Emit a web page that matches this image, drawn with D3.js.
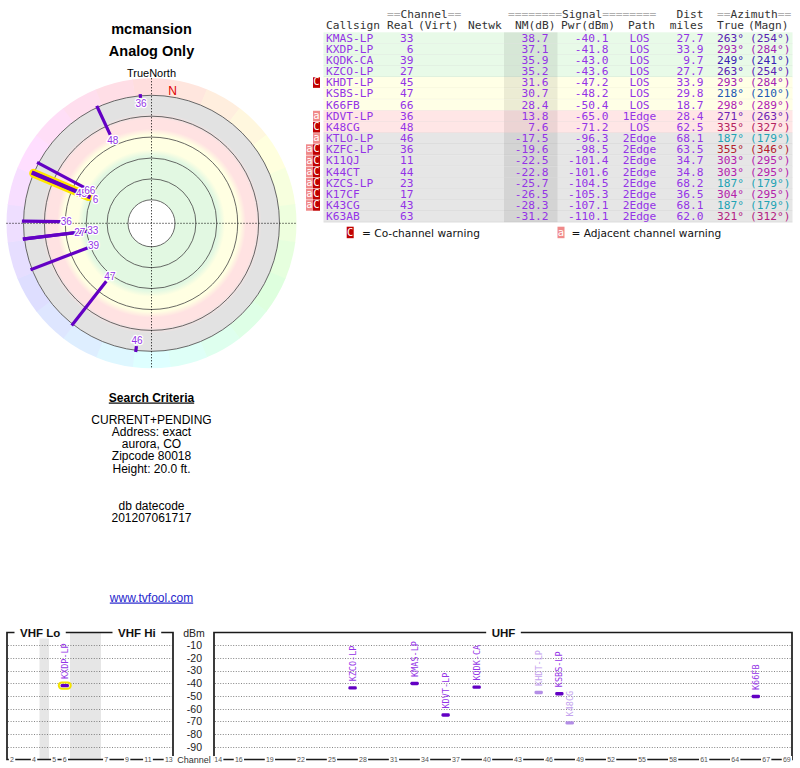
<!DOCTYPE html>
<html>
<head>
<meta charset="utf-8">
<script src="https://cdn.jsdelivr.net/npm/d3@7"></script>
<style>
  body { margin: 0; background: #fff; }
  svg { display: block; }
</style>
</head>
<body>
<svg id="chart" width="800" height="768"></svg>
<script>
//data
const siteName = 'mcmansion';
const subTitle = 'Analog Only';
const callsigns = ['KMAS-LP','KXDP-LP','KQDK-CA','KZCO-LP','KHDT-LP','KSBS-LP','K66FB','KDVT-LP','K48CG',
  'KTLO-LP','KZFC-LP','K11QJ','K44CT','KZCS-LP','K17CF','K43CG','K63AB'];
const channels = [33, 6, 39, 27, 45, 47, 66, 36, 48, 46, 36, 11, 44, 23, 17, 43, 63];
const nmDb = [38.7, 37.1, 35.9, 35.2, 31.6, 30.7, 28.4, 13.8, 7.6, -17.5, -19.6, -22.5, -22.8, -25.7, -26.5, -28.3, -31.2];
const pwrDbm = [-40.1, -41.8, -43.0, -43.6, -47.2, -48.2, -50.4, -65.0, -71.2, -96.3, -98.5, -101.4, -101.6, -104.5, -105.3, -107.1, -110.1];
const paths = ['LOS','LOS','LOS','LOS','LOS','LOS','LOS','1Edge','LOS','2Edge','2Edge','2Edge','2Edge','2Edge','2Edge','2Edge','2Edge'];
const distMiles = [27.7, 33.9, 9.7, 27.7, 33.9, 29.8, 18.7, 28.4, 62.5, 68.1, 63.5, 34.7, 34.8, 68.2, 36.5, 68.1, 62.0];
const azTrue = [263, 293, 249, 263, 293, 218, 298, 271, 335, 187, 355, 303, 303, 187, 304, 187, 321];
const azMagn = [254, 284, 241, 254, 284, 210, 289, 263, 327, 179, 346, 295, 295, 179, 295, 179, 312];
const warnings = ['','','','','C','','','a','C','a','aC','aC','aC','aC','aC','aC',''];
const highlighted = ['KXDP-LP'];

const nmRings = [-20, 0, 20, 40, 60, 80];
const magDeclination = 9;
const criteria = ['CURRENT+PENDING', 'Address: exact', 'aurora, CO', 'Zipcode 80018', 'Height: 20.0 ft.'];
const dbLines = ['db datecode', '201207061717'];
const siteUrl = 'www.tvfool.com';

const dbmTicks = [-10, -20, -30, -40, -50, -60, -70, -80, -90];
const vhfTicks = [2, 4, 5, 6, 7, 9, 11, 13];
const uhfTicks = [14, 16, 19, 22, 25, 28, 31, 34, 37, 40, 43, 46, 49, 52, 55, 58, 61, 64, 67, 69];

//style
const SANS = '"Liberation Sans", Arial, Helvetica, sans-serif';
const MONO = '"DejaVu Sans Mono", monospace';
const PURPLE = '#9433e6';
const BAR = '#6300c4';
const BAR_LIGHT = '#b38de6';
const LABEL_LIGHT = '#c4a2ee';
const BAND = { green: '#e2f8e2', yellow: '#ffffe2', pink: '#ffe2e2', gray: '#e2e2e2' };
const ROW = { green: '#e8fae8', yellow: '#ffffe6', pink: '#ffe6e6', gray: '#e6e6e6' };

const svg = d3.select('#chart');

const stations = callsigns.map((c, i) => ({
  call: c, ch: channels[i], nm: nmDb[i], pwr: pwrDbm[i], path: paths[i],
  dist: distMiles[i], az: azTrue[i], azm: azMagn[i], warn: warnings[i],
  hi: highlighted.includes(c)
}));

function band(nm) {
  if (nm >= 35) return 'green';
  if (nm >= 15) return 'yellow';
  if (nm >= 0) return 'pink';
  return 'gray';
}
const azColor = az => d3.hsl(az, 0.68, 0.42).toString();

// text on a frame line, with white behind it
function lineLabel(g, txt, x, y, opts) {
  const t = g.append('text')
    .attr('x', x).attr('y', y)
    .attr('text-anchor', opts.anchor || 'start')
    .attr('font-family', opts.family || SANS)
    .attr('font-size', opts.size)
    .attr('font-weight', opts.weight || 'normal')
    .attr('fill', opts.fill || '#000')
    .text(txt);
  const bb = t.node().getBBox();
  const pad = opts.pad || 0;
  g.insert('rect', () => t.node())
    .attr('x', bb.x - pad).attr('y', bb.y)
    .attr('width', bb.width + pad * 2).attr('height', bb.height)
    .attr('fill', '#fff');
  return t;
}

//titles
svg.append('text').attr('x', 151.5).attr('y', 34).attr('text-anchor', 'middle')
  .attr('font-family', SANS).attr('font-weight', 'bold').attr('font-size', 14.5).text(siteName);
svg.append('text').attr('x', 151.5).attr('y', 55.5).attr('text-anchor', 'middle')
  .attr('font-family', SANS).attr('font-weight', 'bold').attr('font-size', 14.5).text(subTitle);

//polar plot
function buildPolar() {
  const cx = 151.5, cy = 223.3;
  const rOuter = 128, rRing = 145;
  const r = d3.scaleLinear().domain([-20, 80]).range([rOuter, 23.5]);
  const pt = (az, rad) => {
    const a = az * Math.PI / 180;
    return [cx + rad * Math.sin(a), cy - rad * Math.cos(a)];
  };
  const g = svg.append('g');

  // compass colour wheel
  const arc = d3.arc().innerRadius(rOuter).outerRadius(rRing);
  d3.range(0, 360, 15).forEach(a => {
    g.append('path')
      .attr('transform', `translate(${cx},${cy})`)
      .attr('d', arc({ startAngle: (a - 7.6) * Math.PI / 180, endAngle: (a + 7.6) * Math.PI / 180 }))
      .attr('fill', d3.hsl(a, 1, 0.935).toString());
  });

  // signal bands
  const grad = svg.append('defs').append('radialGradient')
    .attr('id', 'bands').attr('gradientUnits', 'userSpaceOnUse')
    .attr('cx', cx).attr('cy', cy).attr('r', rOuter);
  const blend = 3;
  [[0, BAND.green], [r(35) - blend, BAND.green], [r(35) + blend, BAND.yellow],
   [r(15) - blend, BAND.yellow], [r(15) + blend, BAND.pink],
   [r(0) - blend, BAND.pink], [r(0) + blend, BAND.gray], [rOuter, BAND.gray]]
    .forEach(([rad, c]) => grad.append('stop').attr('offset', rad / rOuter).attr('stop-color', c));

  g.append('circle').attr('cx', cx).attr('cy', cy).attr('r', rOuter).attr('fill', 'url(#bands)');
  g.append('circle').attr('cx', cx).attr('cy', cy).attr('r', r(80)).attr('fill', '#fff');

  g.selectAll('.ring').data(nmRings).join('circle')
    .attr('class', 'ring')
    .attr('cx', cx).attr('cy', cy).attr('r', d => r(d))
    .attr('fill', 'none').attr('stroke', '#444').attr('stroke-width', 0.8);

  // crosshair
  g.append('line').attr('x1', cx).attr('x2', cx).attr('y1', cy - rRing).attr('y2', cy + rRing)
    .attr('stroke', '#000').attr('stroke-width', 1).attr('stroke-dasharray', '1,2');
  g.append('line').attr('y1', cy).attr('y2', cy).attr('x1', cx - rRing).attr('x2', cx + rRing)
    .attr('stroke', '#000').attr('stroke-width', 1).attr('stroke-dasharray', '1,2');

  g.append('text').attr('x', cx).attr('y', cy - rRing - 1.5).attr('text-anchor', 'middle')
    .attr('font-family', SANS).attr('font-size', 11).text('TrueNorth');
  const [nx, ny] = pt(magDeclination, 134);
  g.append('text').attr('x', nx).attr('y', ny + 4).attr('text-anchor', 'middle')
    .attr('font-family', SANS).attr('font-size', 12).attr('fill', '#e00000').text('N');

  const shown = stations.filter(s => s.nm > -20);

  // highlight behind
  shown.filter(s => s.hi).forEach(s => {
    const [x1, y1] = pt(s.az, rOuter);
    const [x2, y2] = pt(s.az, r(s.nm));
    g.append('line').attr('x1', x1).attr('y1', y1).attr('x2', x2).attr('y2', y2)
      .attr('stroke', '#ffe600').attr('stroke-width', 9).attr('stroke-linecap', 'round');
  });

  shown.forEach(s => {
    const [x1, y1] = pt(s.az, rOuter);
    const [x2, y2] = pt(s.az, r(s.nm));
    g.append('line').attr('x1', x1).attr('y1', y1).attr('x2', x2).attr('y2', y2)
      .attr('stroke', BAR).attr('stroke-width', s.hi ? 4.2 : 3.2).attr('stroke-linecap', 'square');
  });

  // labels, strongest first, nudged outward if they collide
  const placed = [];
  [...shown].sort((a, b) => b.nm - a.nm).forEach(s => {
    let p = pt(s.az, r(s.nm) - 7.5);
    if (placed.some(q => Math.hypot(q[0] - p[0], q[1] - p[1]) < 8)) p = pt(s.az, r(s.nm) + 2);
    placed.push(p);
    g.append('text').attr('x', p[0]).attr('y', p[1] + 3.5).attr('text-anchor', 'middle')
      .attr('font-family', SANS).attr('font-size', 10)
      .attr('fill', PURPLE).attr('stroke', '#fff').attr('stroke-width', 2.5)
      .attr('paint-order', 'stroke').attr('stroke-linejoin', 'round')
      .text(s.ch);
  });
}

//search criteria
function buildCriteria() {
  const g = svg.append('g').attr('font-family', SANS).attr('text-anchor', 'middle');
  g.append('text').attr('x', 151.5).attr('y', 401.5).attr('font-size', 12).attr('font-weight', 'bold')
    .attr('text-decoration', 'underline').text('Search Criteria');
  criteria.forEach((t, i) => g.append('text').attr('x', 151.5).attr('y', 423.5 + i * 12.3)
    .attr('font-size', 12).text(t));
  dbLines.forEach((t, i) => g.append('text').attr('x', 151.5).attr('y', 509.5 + i * 12.3)
    .attr('font-size', 12).text(t));
  g.append('text').attr('x', 151.5).attr('y', 601.5).attr('font-size', 12).attr('fill', '#2525cc')
    .attr('text-decoration', 'underline').text(siteUrl);
}

//table
function buildTable() {
  const g = svg.append('g').attr('font-family', MONO).attr('font-size', 11.2);
  const top = 32.3, rowH = 11.17;
  const left = 323.5, right = 792.5;

  // header
  const hdr = (x, y, parts, anchor) => {
    const t = g.append('text').attr('x', x).attr('y', y).attr('text-anchor', anchor || 'start');
    parts.forEach(([s, c]) => t.append('tspan').attr('fill', c).text(s));
  };
  const EQ = '#b0b0b0', HD = '#333';
  hdr(387, 18.3, [['==', EQ], ['Channel', HD], ['==', EQ]]);
  hdr(508, 18.3, [['========', EQ], ['Signal', HD], ['========', EQ]]);
  hdr(703.5, 18.3, [['Dist', HD]], 'end');
  hdr(717, 18.3, [['==', EQ], ['Azimuth', HD], ['==', EQ]]);
  hdr(326, 29, [['Callsign', HD]]);
  hdr(387, 29, [['Real', HD]]);
  hdr(418, 29, [['(Virt)', HD]]);
  hdr(468, 29, [['Netwk', HD]]);
  hdr(555.5, 29, [['NM(dB)', HD]], 'end');
  hdr(615, 29, [['Pwr(dBm)', HD]], 'end');
  hdr(655, 29, [['Path', HD]], 'end');
  hdr(703.5, 29, [['miles', HD]], 'end');
  hdr(717, 29, [['True', HD]]);
  hdr(748, 29, [['(Magn)', HD]]);

  const rows = g.selectAll('.row').data(stations).join('g')
    .attr('class', 'row')
    .attr('transform', (d, i) => `translate(0,${top + i * rowH})`);

  rows.append('rect').attr('x', left).attr('width', right - left).attr('height', rowH)
    .attr('fill', d => ROW[band(d.nm)]);
  rows.append('rect').attr('x', 504).attr('width', 53.5).attr('height', rowH)
    .attr('fill', 'rgba(0,0,0,0.075)');
  rows.append('line').attr('x1', left).attr('x2', right).attr('y1', rowH).attr('y2', rowH)
    .attr('stroke', 'rgba(0,0,0,0.09)').attr('stroke-width', 0.8);

  const base = 9.2;
  const cell = (sel, x, anchor, fn, color) => sel.append('text')
    .attr('x', x).attr('y', base).attr('text-anchor', anchor)
    .attr('fill', color || PURPLE).text(fn);
  cell(rows, 326, 'start', d => d.call);
  cell(rows, 413.5, 'end', d => d.ch);
  cell(rows, 548.5, 'end', d => d.nm.toFixed(1));
  cell(rows, 608.5, 'end', d => d.pwr.toFixed(1));
  cell(rows, 639.5, 'middle', d => d.path);
  cell(rows, 703.5, 'end', d => d.dist.toFixed(1));
  rows.append('text').attr('x', 717).attr('y', base).attr('fill', d => azColor(d.az)).text(d => d.az + '°');
  rows.append('text').attr('x', 750).attr('y', base).attr('fill', d => azColor(d.az)).text(d => `(${d.azm}°)`);

  // warning badges
  rows.each(function(d) {
    const chars = d.warn.split('');
    chars.forEach((c, k) => {
      const x = 320 - (chars.length - k) * 7;
      badge(d3.select(this), c, x, 0.3, rowH - 0.6);
    });
  });

  // legend
  const ly = 226.7;
  badge(g, 'C', 346.7, ly, 11.5);
  g.append('text').attr('x', 362).attr('y', ly + 10.3).attr('font-family', '"DejaVu Sans", sans-serif')
    .attr('font-size', 10.6).attr('fill', '#111').text('= Co-channel warning');
  badge(g, 'a', 557.5, ly, 11.5);
  g.append('text').attr('x', 571.5).attr('y', ly + 10.3).attr('font-family', '"DejaVu Sans", sans-serif')
    .attr('font-size', 10.6).attr('fill', '#111').text('= Adjacent channel warning');
}

function badge(sel, c, x, y, h) {
  sel.append('rect').attr('x', x).attr('y', y).attr('width', 7).attr('height', h)
    .attr('fill', c === 'C' ? '#c00000' : '#f08a8a');
  sel.append('text').attr('x', x + 3.5).attr('y', y + h - 2.4).attr('text-anchor', 'middle')
    .attr('font-family', MONO).attr('font-size', 10.5).attr('fill', '#fff').text(c);
}

//spectrum
function chFreq(ch) {
  if (ch <= 4) return 54 + 6 * (ch - 2) + 3;
  if (ch <= 6) return 76 + 6 * (ch - 5) + 3;
  if (ch <= 13) return 174 + 6 * (ch - 7) + 3;
  return 470 + 6 * (ch - 14) + 3;
}

function buildSpectrum() {
  const yTop = 632.5, yBot = 759.5;
  const y = d3.scaleLinear().domain([0, -100]).range([yTop, yBot]);
  const vhf = d3.scaleLinear().domain([54, 72, 76, 88, 174, 216]).range([6.5, 39.5, 49, 70, 101, 174]);
  const uhf = d3.scaleLinear().domain([470, 806]).range([213, 792]);
  const xOf = ch => ch <= 13 ? vhf(chFreq(ch)) : uhf(chFreq(ch));
  const boxes = [[7, 173], [214, 792]];
  const g = svg.append('g');

  // FM and 4-5 gaps
  [[72, 76], [88, 174]].forEach(([a, b]) => g.append('rect')
    .attr('x', vhf(a)).attr('y', yTop).attr('width', vhf(b) - vhf(a)).attr('height', yBot - yTop)
    .attr('fill', '#e6e6e6'));

  boxes.forEach(([x0, x1]) => {
    g.selectAll(null).data(dbmTicks).join('line')
      .attr('x1', x0 + 1).attr('x2', x1 - 1)
      .attr('y1', d => Math.round(y(d)) + 0.5).attr('y2', d => Math.round(y(d)) + 0.5)
      .attr('stroke', '#666').attr('stroke-width', 0.8).attr('stroke-dasharray', '1,1.6');
    g.append('path')
      .attr('d', `M${x0},${yBot}V${yTop}H${x1}V${yBot}Z`)
      .attr('fill', 'none').attr('stroke', '#1a1a1a').attr('stroke-width', 1.7);
  });

  // y axis
  g.selectAll(null).data(dbmTicks).join('text')
    .attr('x', 202).attr('y', d => y(d) + 3.8).attr('text-anchor', 'end')
    .attr('font-family', SANS).attr('font-size', 10.5).attr('fill', '#222').text(d => d);
  g.append('text').attr('x', 194).attr('y', 636.5).attr('text-anchor', 'middle')
    .attr('font-family', SANS).attr('font-size', 10.5).attr('fill', '#222').text('dBm');
  g.append('text').attr('x', 194).attr('y', 763).attr('text-anchor', 'middle')
    .attr('font-family', SANS).attr('font-size', 9).attr('fill', '#333').text('Channel');

  // band titles on the frame
  const tb = { size: 11.5, weight: 'bold', pad: 5.5, fill: '#111' };
  lineLabel(g, 'VHF Lo', 20, yTop + 4, tb);
  lineLabel(g, 'VHF Hi', 118, yTop + 4, tb);
  lineLabel(g, 'UHF', 503.5, yTop + 4, Object.assign({ anchor: 'middle' }, tb));

  // channel ticks on the bottom frame
  const tick = { size: 7, anchor: 'middle', pad: 1.2, fill: '#555' };
  vhfTicks.forEach(ch => lineLabel(g, ch, xOf(ch), yBot + 2.5, tick));
  uhfTicks.forEach(ch => lineLabel(g, ch, xOf(ch), yBot + 2.5, tick));

  // stations
  const shown = stations.filter(s => s.nm > 0);
  shown.filter(s => s.hi).forEach(s => g.append('rect')
    .attr('x', xOf(s.ch) - 6).attr('y', y(s.pwr) - 3.2).attr('width', 12).attr('height', 6.4)
    .attr('rx', 3.2).attr('fill', 'none').attr('stroke', '#f2e200').attr('stroke-width', 2));

  shown.forEach(s => {
    const x = xOf(s.ch), yy = y(s.pwr);
    const light = s.warn.includes('C');
    g.append('rect').attr('x', x - 4.2).attr('y', yy - 1.7).attr('width', 8.4).attr('height', 3.4)
      .attr('rx', 1.4).attr('fill', light ? BAR_LIGHT : BAR);
    g.append('text')
      .attr('transform', `translate(${x},${yy - 6.5}) rotate(-90)`)
      .attr('dominant-baseline', 'central')
      .attr('font-family', MONO).attr('font-size', 8.5)
      .attr('fill', light ? LABEL_LIGHT : PURPLE)
      .text(s.call);
  });
}

buildPolar();
buildCriteria();
buildTable();
buildSpectrum();
</script>
</body>
</html>
